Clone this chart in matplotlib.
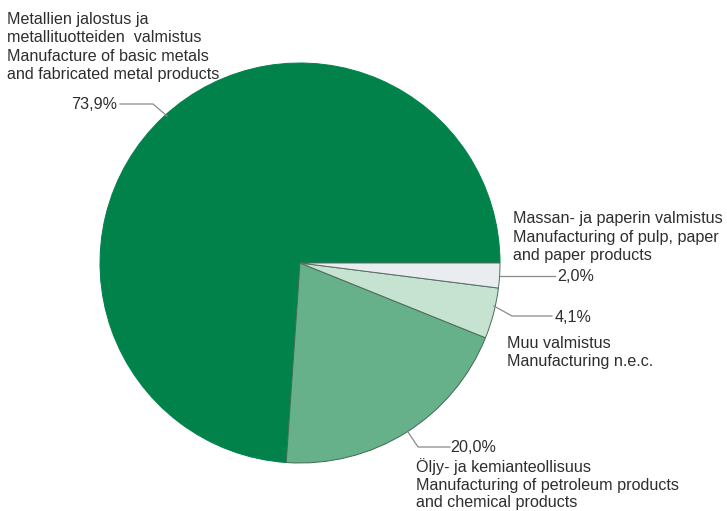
import matplotlib
matplotlib.use("Agg")
import matplotlib.pyplot as plt

# ---- data ----
shares = [73.9, 20.0, 4.1, 2.0]
pct_labels = ["73,9%", "20,0%", "4,1%", "2,0%"]
names = [
    ["Metallien jalostus ja", "metallituotteiden  valmistus",
     "Manufacture of basic metals", "and fabricated metal products"],
    ["Öljy- ja kemianteollisuus", "Manufacturing of petroleum products",
     "and chemical products"],
    ["Muu valmistus", "Manufacturing n.e.c."],
    ["Massan- ja paperin valmistus", "Manufacturing of pulp, paper",
     "and paper products"],
]
colors = ["#00824a", "#66b08a", "#c6e3d2", "#e9edf0"]
edge_colors = ["#00824a", "#3f6b55", "#4d6b5a", "#5a6a66"]

W, H = 727, 511
plt.rcParams['font.family'] = ['Liberation Sans', 'DejaVu Sans']

fig = plt.figure(figsize=(W / 100, H / 100), dpi=100)
ax = fig.add_axes([0, 0, 1, 1])

def Y(y):
    return H - y

cx, cy, r = 300, 263, 200
wedges, _ = ax.pie(shares, colors=colors, startangle=0, counterclock=True,
                   center=(cx, Y(cy)), radius=r, frame=True,
                   wedgeprops=dict(linewidth=0.7))
for w, ec in zip(wedges, edge_colors):
    w.set_edgecolor(ec)
ax.set_xlim(0, W)
ax.set_ylim(0, H)
ax.set_aspect('equal')
ax.axis('off')

fs = 11.6
tc = "#2e2e2e"
lc = "#8a8a8a"

def block(x, baselines, lines):
    for yb, t in zip(baselines, lines):
        ax.text(x, Y(yb), t, fontsize=fs, color=tc, ha='left', va='baseline')

# 73.9 %
block(7, [24, 42, 61, 79], names[0])
ax.plot([120, 153, 167], [Y(104), Y(104), Y(116)], color=lc, lw=0.9)
ax.text(117, Y(109), pct_labels[0], fontsize=fs, color=tc, ha='right', va='baseline')

# 2.0 %
block(513, [223, 242, 260], names[3])
ax.plot([500, 555], [Y(276), Y(276)], color=lc, lw=0.9)
ax.text(557, Y(281), pct_labels[3], fontsize=fs, color=tc, ha='left', va='baseline')

# 4.1 %
ax.plot([494, 512, 552], [Y(306), Y(316), Y(316)], color=lc, lw=0.9)
ax.text(555, Y(322), pct_labels[2], fontsize=fs, color=tc, ha='left', va='baseline')
block(507, [348, 366], names[2])

# 20.0 %
ax.plot([408, 418, 450], [Y(432), Y(447), Y(447)], color=lc, lw=0.9)
ax.text(450, Y(452), pct_labels[1], fontsize=fs, color=tc, ha='left', va='baseline')
block(416, [472, 490, 507], names[1])

fig.savefig("out.png", dpi=100)
